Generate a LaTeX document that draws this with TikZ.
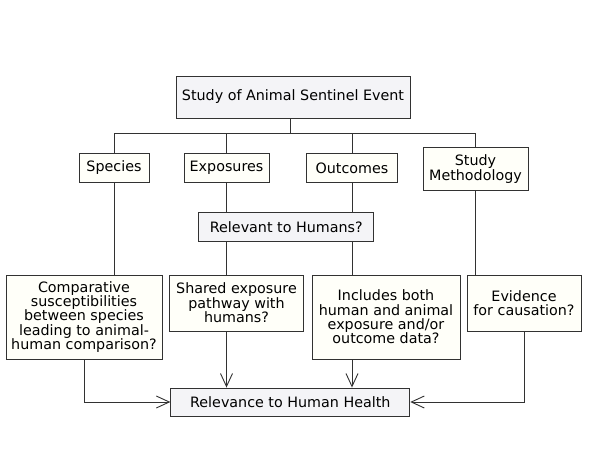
\documentclass[tikz,border=0pt]{standalone}
\usepackage{fontspec}
\setmainfont{DejaVu Sans}
\usepackage{xcolor}
\usetikzlibrary{arrows.meta}

\definecolor{boxgray}{RGB}{244,244,247}
\definecolor{boxivory}{RGB}{255,255,249}
\definecolor{edgegray}{RGB}{50,50,50}

\tikzset{
    base/.style={draw=edgegray, line width=0.9pt, inner sep=0pt, align=center,
        font=\fontsize{14.3}{14.4}\selectfont},
    graybox/.style={base, fill=boxgray},
    ivorybox/.style={base, fill=boxivory},
    link/.style={draw=edgegray, line width=0.9pt},
    arrowlink/.style={link, -{Straight Barb[length=13pt,width=12pt]}}
}

\begin{document}
\begin{tikzpicture}[x=1pt, y=-1pt]

    \useasboundingbox (0, 0) rectangle (595, 451);

    \node [graybox, minimum width=234pt, minimum height=42pt] (event) at (293, 97)
        {Study of Animal Sentinel Event};

    \node [ivorybox, minimum width=70pt, minimum height=29pt] (species) at (114, 168) {Species};
    \node [ivorybox, minimum width=85pt, minimum height=29pt] (exposures) at (226.5, 168) {Exposures};
    \node [ivorybox, minimum width=91pt, minimum height=29pt] (outcomes) at (352, 168) {Outcomes};
    \node [ivorybox, minimum width=105pt, minimum height=43pt] (method) at (475.5, 169)
        {Study\\Methodology};

    \node [graybox, minimum width=175pt, minimum height=29pt] (relevant) at (286.3, 227)
        {Relevant to Humans?};

    \node [ivorybox, minimum width=156pt, minimum height=84pt] (compare) at (84, 317)
        {Comparative\\susceptibilities\\between species\\leading to animal-\\human comparison?};
    \node [ivorybox, minimum width=134pt, minimum height=56pt] (shared) at (236.5, 303)
        {Shared exposure\\pathway with\\humans?};
    \node [ivorybox, minimum width=148pt, minimum height=84pt] (includes) at (386, 317)
        {Includes both\\human and animal\\exposure and/or\\outcome data?};
    \node [ivorybox, minimum width=114pt, minimum height=56pt] (evidence) at (524, 303)
        {Evidence\\for causation?};

    \node [graybox, minimum width=239pt, minimum height=28pt] (health) at (290.3, 402)
        {Relevance to Human Health};

    \coordinate (bus) at (290, 133);

    % top level tree
    \draw [link] (event.south -| bus) -- (bus);
    \draw [link] (species.north |- bus) -- (method.north |- bus);
    \foreach \n in {species, exposures, outcomes, method}
        \draw [link] (\n.north) -- (\n.north |- bus);

    % columns down to the questions
    \draw [link] (species.south) -- (species.south |- compare.north);
    \draw [link] (exposures.south) -- (exposures.south |- relevant.north);
    \draw [link] (exposures.south |- relevant.south) -- (exposures.south |- shared.north);
    \draw [link] (outcomes.south) -- (outcomes.south |- relevant.north);
    \draw [link] (outcomes.south |- relevant.south) -- (outcomes.south |- includes.north);
    \draw [link] (method.south) -- (method.south |- evidence.north);

    % into the result
    \draw [arrowlink] (compare.south) |- (health.west);
    \draw [arrowlink] (exposures.south |- shared.south) -- (exposures.south |- health.north);
    \draw [arrowlink] (outcomes.south |- includes.south) -- (outcomes.south |- health.north);
    \draw [arrowlink] (evidence.south) |- (health.east);

\end{tikzpicture}
\end{document}
